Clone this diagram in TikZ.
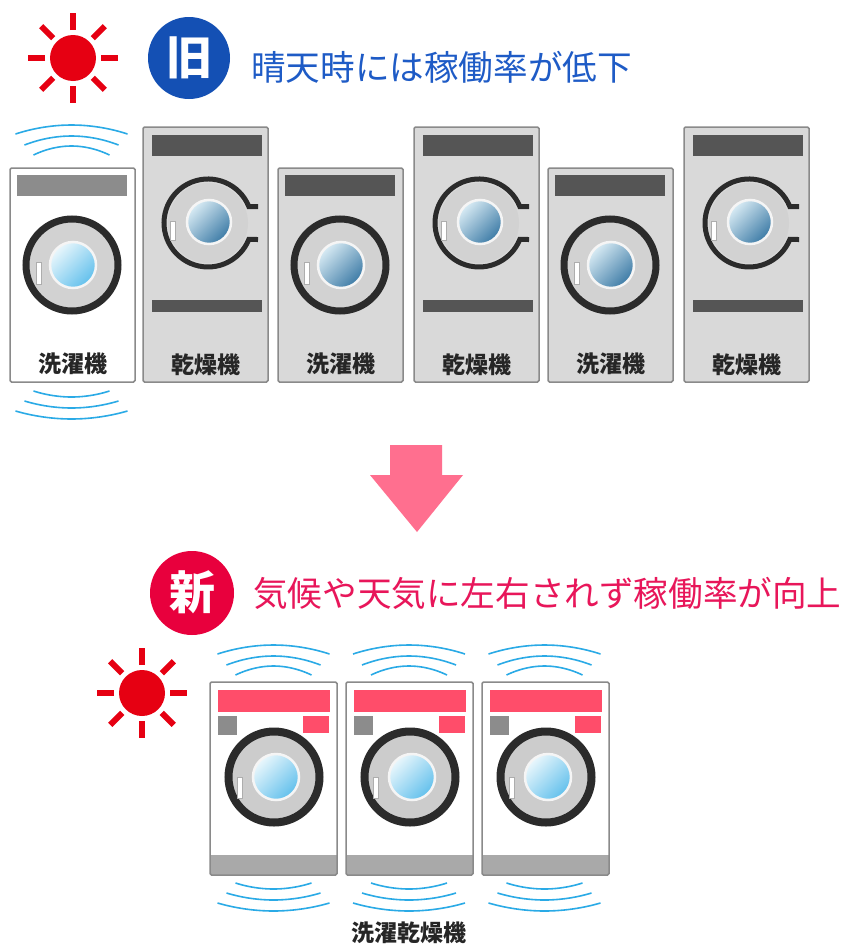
\documentclass[tikz,border=0pt]{standalone}
\usepackage{fontspec}
\newfontfamily\cjk{Noto Sans CJK JP}
\definecolor{sunred}{HTML}{E60012}
\definecolor{oldblue}{HTML}{1450B4}
\definecolor{titleblue}{HTML}{1E5BC6}
\definecolor{newred}{HTML}{E8003D}
\definecolor{titlered}{HTML}{E8165A}
\definecolor{arrowpink}{HTML}{FF6F8F}
\definecolor{wave}{HTML}{2AAAE6}
\definecolor{bodygrey}{HTML}{D9D9D9}
\definecolor{edgegrey}{HTML}{8A8A8A}
\definecolor{bardark}{HTML}{555555}
\definecolor{barmid}{HTML}{8C8C8C}
\definecolor{ringdark}{HTML}{2B2B2B}
\definecolor{doorgrey}{HTML}{D2D2D2}
\definecolor{pinkbar}{HTML}{FF4D6A}
\definecolor{baseband}{HTML}{A9A9A9}
\definecolor{glasslight}{HTML}{EAF7FC}
\definecolor{glasscyan}{HTML}{62C0EC}
\definecolor{glasssteel}{HTML}{3D7BA6}
\definecolor{glasspale}{HTML}{D8EBF4}

\tikzset{
  x=1pt, y=-1pt,
  wavestyle/.style={draw=wave, line width=1.6},
  labeltext/.style={font=\cjk\bfseries\fontsize{23}{23}\selectfont, text=black!85, inner sep=0},
  titletext/.style={font=\cjk\fontsize{34.6}{36}\selectfont, anchor=west, inner sep=0},
  marktext/.style={font=\cjk\bfseries\fontsize{46}{46}\selectfont, text=white, inner sep=0},
  machineedge/.style={draw=edgegrey, line width=1.5, rounded corners=1.5},
  glass/.style 2 args={draw=white!92!gray, line width=2.5, top color=#1, bottom color=#2, shading angle=45},
  handlebox/.style={draw=edgegrey!70, fill=white, line width=0.6},
  % sun with eight rays
  pics/sun/.style={code={
    \fill[sunred] (0,0) circle[radius=23];
    \foreach \a in {0,45,...,315}
      \draw[sunred, line width=6] (\a:28) -- (\a:45);
  }},
  % vibration lines above a machine (widest on top)
  pics/wavesup/.style={code={
    \draw[wavestyle] (-56,9) parabola bend (0,0) (56,9);
    \draw[wavestyle] (-47,20) parabola bend (0,11) (47,20);
    \draw[wavestyle] (-38,30) parabola bend (0,21) (38,30);
  }},
  % vibration lines below a machine (widest at the bottom)
  pics/wavesdown/.style={code={
    \draw[wavestyle] (-38,0) parabola bend (0,6) (38,0);
    \draw[wavestyle] (-47,10) parabola bend (0,17) (47,10);
    \draw[wavestyle] (-56,20) parabola bend (0,28) (56,20);
  }},
  % old-style washer: body fill, panel colour, glass light, glass dark
  pics/washerold/.style n args={4}{code={
    \path[machineedge, fill=#1] (0,0) rectangle (125,214);
    \fill[#2] (7,7) rectangle (117,28);
    \fill[doorgrey] (62,97) circle[radius=44];
    \draw[ringdark, line width=7] (62,97) circle[radius=46];
    \path[glass={#3}{#4}] (63,97) circle[radius=23];
    \path[handlebox] (26,94) rectangle (31,116);
    \node[labeltext] (-label) at (62.5,196) {洗濯機};
  }},
  % old-style dryer
  pics/dryerold/.style={code={
    \path[machineedge, fill=bodygrey] (0,0) rectangle (125,255);
    \fill[bardark] (9,8) rectangle (119,29);
    \fill[doorgrey] (65,96) circle[radius=40];
    \draw[ringdark, line width=5] (115,79.5) -- (105.8,79.5)
      arc[start angle=-22, end angle=-338, radius=44] -- (115,112.5);
    \path[glass={glasspale}{glasssteel}] (66,95) circle[radius=22];
    \path[handlebox] (27,94) rectangle (32,113);
    \fill[bardark] (9,173) rectangle (119,185);
    \node[labeltext] (-label) at (62.5,238) {乾燥機};
  }},
  % combined washer-dryer
  pics/washernew/.style={code={
    \fill[white] (0,0) rectangle (127,193);
    \fill[baseband] (0,173) rectangle (127,193);
    \path[machineedge] (0,0) rectangle (127,193);
    \fill[pinkbar] (8,8) rectangle (120,30);
    \fill[barmid] (8,34) rectangle (27,53);
    \fill[pinkbar] (93,34) rectangle (119,51);
    \fill[black!20] (64,95) circle[radius=42];
    \draw[ringdark, line width=8] (64,95) circle[radius=45.5];
    \path[glass={glasslight}{glasscyan}] (66,95) circle[radius=23];
    \path[handlebox] (27,95) rectangle (32,116);
  }},
}

\begin{document}
\begin{tikzpicture}
\fill[white] (0,0) rectangle (847,945);
\useasboundingbox (0,0) rectangle (847,945);

% ---- before ----
\pic (sunA) at (73,58) {sun};
\fill[oldblue] (189,58) circle[radius=41];
\node[marktext] (mark-old) at (189,58) {旧};
\node[titletext, text=titleblue] (title-old) at (251,67) {晴天時には稼働率が低下};

\pic (wvA) at (71.5,125) {wavesup};
\pic (wvB) at (71.5,391) {wavesdown};

\pic (m1) at (10,168)  {washerold={white}{barmid}{glasslight}{glasscyan}};
\pic (m2) at (143,127) {dryerold};
\pic (m3) at (278,168) {washerold={bodygrey}{bardark}{glasspale}{glasssteel}};
\pic (m4) at (414,127) {dryerold};
\pic (m5) at (548,168) {washerold={bodygrey}{bardark}{glasspale}{glasssteel}};
\pic (m6) at (684,127) {dryerold};

% ---- transition arrow ----
\fill[arrowpink] (390,445) -- (442,445) -- (442,475) -- (463,475)
  -- (417,532) -- (370,475) -- (390,475) -- cycle;

% ---- after ----
\fill[newred] (192,593) circle[radius=42];
\node[marktext] (mark-new) at (192,592) {新};
\node[titletext, text=titlered] (title-new) at (253,593) {気候や天気に左右されず稼働率が向上};

\pic (sunB) at (142,693) {sun};

\foreach \cx [count=\i] in {273.5,409,544.5} {
  \pic (up\i) at (\cx,645) {wavesup};
  \pic (dn\i) at (\cx,883) {wavesdown};
}
\pic (n1) at (210,682) {washernew};
\pic (n2) at (346,682) {washernew};
\pic (n3) at (482,682) {washernew};

\node[labeltext] (new-label) at (409,933) {洗濯乾燥機};
\end{tikzpicture}
\end{document}
